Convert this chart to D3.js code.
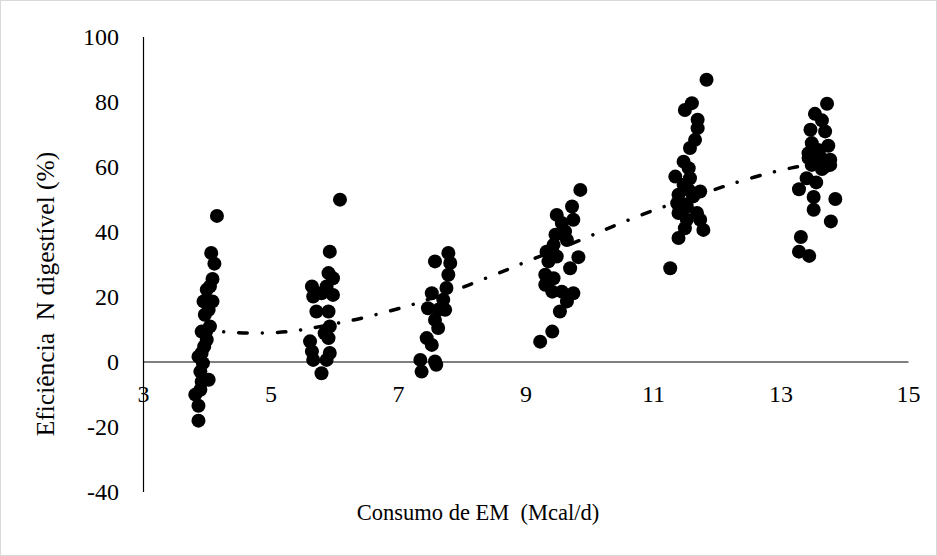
<!DOCTYPE html>
<html>
<head>
<meta charset="utf-8">
<script src="https://cdn.jsdelivr.net/npm/d3@7"></script>
<style>
  html, body { margin: 0; padding: 0; background: #fff; }
  svg { display: block; font-family: "Liberation Serif", "Times New Roman", serif; }
</style>
</head>
<body>
<svg id="chart" width="937" height="556"></svg>
<script>
// Consumo de EM (Mcal/d) for each observation
const consumoEM = [
  4.16, 4.07, 4.12, 4.09, 4.05, 4.00, 4.09, 3.95, 4.03, 3.97, 4.05, 3.99, 3.92, 4.00, 3.96, 3.92, 3.87, 3.94, 3.90, 4.03, 3.92, 3.90, 3.82, 3.87, 3.87,
  6.09, 5.93, 5.91, 5.98, 5.65, 5.88, 5.98, 5.67, 5.80, 5.72, 5.91, 5.93, 5.85, 5.62, 5.91, 5.65, 5.93, 5.67, 5.88, 5.80,
  7.79, 7.58, 7.82, 7.79, 7.76, 7.53, 7.71, 7.47, 7.63, 7.74, 7.58, 7.63, 7.45, 7.53, 7.35, 7.58, 7.37, 7.60,
  9.86, 9.73, 9.49, 9.75, 9.57, 9.62, 9.47, 9.65, 9.44, 9.33, 9.49, 9.83, 9.36, 9.70, 9.31, 9.44, 9.31, 9.42, 9.57, 9.75, 9.65, 9.54, 9.42, 9.23,
  11.84, 11.61, 11.50, 11.70, 11.70, 11.66, 11.58, 11.48, 11.56, 11.35, 11.58, 11.48, 11.56, 11.74, 11.40, 11.63, 11.38, 11.53, 11.40, 11.69, 11.53, 11.74, 11.50, 11.79, 11.40, 11.27,
  13.73, 13.54, 13.65, 13.47, 13.70, 13.49, 13.75, 13.59, 13.44, 13.62, 13.44, 13.78, 13.54, 13.70, 13.78, 13.49, 13.65, 13.41, 13.56, 13.29, 13.52, 13.86, 13.52, 13.79, 13.32, 13.29, 13.45
];

// Eficiência N digestível (%) for each observation
const eficienciaN = [
  44.8, 33.4, 30.1, 25.4, 23.1, 22.1, 18.5, 18.5, 15.9, 14.4, 10.8, 9.2, 9.2, 6.7, 4.6, 2.6, 1.5, -0.5, -3.1, -5.6, -6.2, -8.7, -10.2, -13.6, -18.2,
  49.8, 33.8, 27.2, 25.6, 23.1, 23.1, 20.5, 20.0, 21.0, 15.4, 15.4, 10.8, 8.7, 6.2, 7.2, 3.1, 2.6, 0.5, 0.5, -3.6,
  33.4, 30.8, 30.3, 26.7, 22.6, 21.0, 19.0, 16.4, 15.9, 15.9, 12.8, 10.3, 7.2, 5.1, 0.5, 0.0, -3.1, -1.0,
  52.8, 47.7, 45.1, 43.6, 42.6, 40.0, 39.0, 37.4, 35.9, 33.8, 32.3, 32.1, 30.8, 28.7, 26.7, 25.6, 23.6, 21.5, 21.5, 21.0, 18.5, 15.4, 9.2, 6.1,
  86.7, 79.5, 77.4, 74.4, 71.8, 68.2, 65.7, 61.5, 59.5, 56.9, 56.4, 54.4, 52.8, 52.3, 51.3, 50.8, 48.7, 47.7, 45.7, 45.7, 43.6, 43.6, 41.0, 40.5, 38.0, 28.7,
  79.3, 76.2, 74.2, 71.3, 70.8, 67.2, 66.4, 65.1, 64.1, 63.1, 62.6, 62.1, 61.5, 60.0, 60.5, 60.5, 59.2, 56.4, 55.1, 53.0, 50.6, 50.0, 46.7, 43.1, 38.3, 33.8, 32.5
];

// Polynomial trend line, sampled along the consumption range
const trendX = [3.9, 4.3, 4.8, 5.3, 5.6, 6.2, 6.5, 7.1, 7.4, 8.0, 8.2, 8.6, 8.8, 9.1, 9.7, 10.0, 10.25, 10.5, 10.8, 11.1, 12.0, 12.2, 12.6, 12.9, 13.2, 13.35];
const trendY = [9.8, 9.0, 8.6, 9.1, 10.1, 12.3, 13.6, 16.7, 18.6, 22.6, 24.3, 27.3, 29.0, 31.4, 36.0, 38.5, 40.6, 42.6, 45.0, 47.2, 53.1, 54.5, 56.8, 58.4, 59.7, 60.2];

const xTicks = [3, 5, 7, 9, 11, 13, 15];
const yTicks = [-40, -20, 0, 20, 40, 60, 80, 100];

const xTitle = "Consumo de EM  (Mcal/d)";
const yTitle = "Eficiência  N digestível (%)";

const svg = d3.select("#chart");
const W = 937, H = 556;
const FONT = "Liberation Serif, Times New Roman, serif";

// outer chart frame
svg.append("rect")
  .attr("x", 0.5).attr("y", 0.5)
  .attr("width", W - 1).attr("height", H - 1)
  .attr("fill", "#fff").attr("stroke", "#d9d9d9").attr("stroke-width", 1);

const x = d3.scaleLinear().domain([3, 15]).range([143, 908]);
const y = d3.scaleLinear().domain([-40, 100]).range([491.5, 36.5]);

// plain hyphen for negative labels
const tickText = d => String(d);

// vertical axis at x = 3
const yAxis = d3.axisLeft(y).tickValues(yTicks).tickSize(0).tickPadding(24)
  .tickFormat(tickText);
const gy = svg.append("g").attr("transform", `translate(${x(3)},0)`).call(yAxis);
gy.select(".domain").attr("stroke", "#000").attr("stroke-width", 1.2);
gy.selectAll("text").attr("font-size", 24).attr("fill", "#000").attr("font-family", FONT);

// horizontal axis crossing at y = 0, labels hanging below it
const xAxis = d3.axisBottom(x).tickValues(xTicks).tickSize(0).tickPadding(23)
  .tickFormat(tickText);
const gx = svg.append("g").attr("transform", `translate(0,${y(0)})`).call(xAxis);
gx.select(".domain").attr("stroke", "#000").attr("stroke-width", 1.2);
gx.selectAll("text").attr("font-size", 24).attr("fill", "#000").attr("font-family", FONT);

// trend line (dash-dot), beneath the markers
const trend = trendX.map((v, i) => [v, trendY[i]]);
svg.append("path")
  .datum(trend)
  .attr("fill", "none")
  .attr("stroke", "#000")
  .attr("stroke-width", 3.5)
  .attr("stroke-linecap", "round")
  .attr("stroke-dasharray", "8.5,15,0.01,15")
  .attr("d", d3.line().x(d => x(d[0])).y(d => y(d[1])).curve(d3.curveBasis));

// observations
const points = consumoEM.map((v, i) => [v, eficienciaN[i]]);
svg.append("g").selectAll("circle")
  .data(points)
  .join("circle")
  .attr("cx", d => x(d[0]))
  .attr("cy", d => y(d[1]))
  .attr("r", 7)
  .attr("fill", "#000");

// axis titles
svg.append("text")
  .attr("x", 478).attr("y", 520)
  .attr("text-anchor", "middle")
  .attr("font-size", 22.5)
  .attr("fill", "#000")
  .attr("font-family", FONT)
  .style("white-space", "pre")
  .text(xTitle);

svg.append("text")
  .attr("transform", "translate(54,294) rotate(-90)")
  .attr("text-anchor", "middle")
  .attr("font-size", 25.5)
  .attr("fill", "#000")
  .attr("font-family", FONT)
  .style("white-space", "pre")
  .text(yTitle);
</script>
</body>
</html>
